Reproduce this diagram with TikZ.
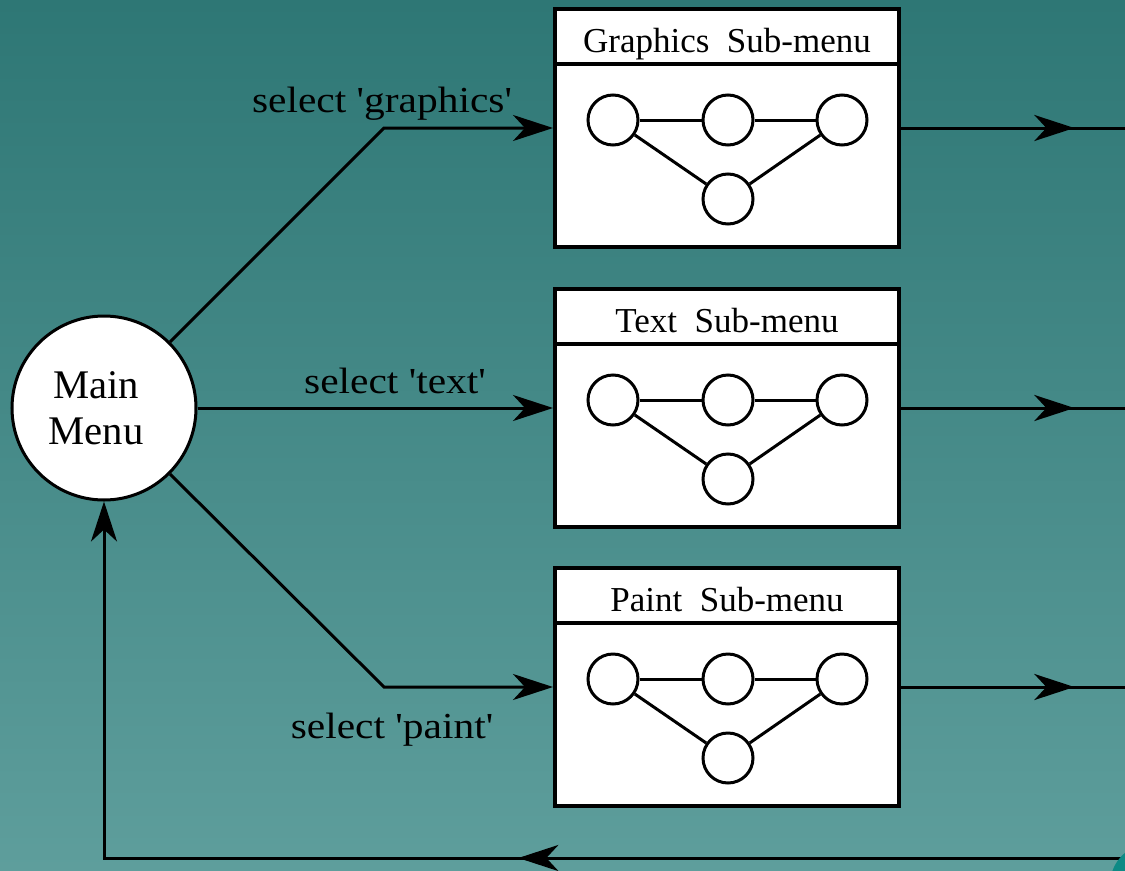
\documentclass[tikz,border=0pt]{standalone}
\usepackage{fontspec}
\setmainfont{Liberation Serif}[Ligatures=TeXOff]
\usetikzlibrary{arrows.meta,decorations.markings}

\definecolor{bgtop}{RGB}{46,119,117}
\definecolor{bgbot}{RGB}{94,158,156}
\definecolor{cornerteal}{RGB}{14,138,133}

\tikzset{
  tipshape/.tip={Stealth[length=30pt,width=19.5pt,inset=9pt]},
  conn/.style={line width=2.25pt, line join=miter},
  menubox/.style={draw, fill=white, line width=3pt, rectangle,
    minimum width=258pt, minimum height=178.5pt, inner sep=0pt},
  ring/.style={draw, fill=white, circle, line width=2.25pt,
    minimum size=37.5pt, inner sep=0pt},
  ringlink/.style={line width=2.25pt},
  titletext/.style={anchor=base, inner sep=0pt,
    font=\fontsize{26.25}{31}\selectfont},
  lbl/.style={anchor=base, inner sep=0pt,
    font=\fontsize{27.5}{33}\selectfont},
  midtip/.style={postaction={decorate}, decoration={markings,
    mark=at position #1 with {\arrow{tipshape}}}}
}

\begin{document}
\begin{tikzpicture}[x=0.75pt,y=-0.75pt]
\useasboundingbox (0,0) rectangle (1125,871);
\shade[top color=bgtop, bottom color=bgbot] (0,0) rectangle (1125,871);

% main menu
\node[draw, fill=white, circle, line width=2.25pt, minimum size=138pt,
  inner sep=0pt] (main) at (104,408) {};
\node[align=center, inner sep=0pt,
  font=\fontsize{30.5}{34.5}\selectfont] (maintext) at (96,408) {Main\\Menu};

% the three sub-menu windows
\foreach \n/\cy/\ttl in {g/128/Graphics, t/408/Text, p/687/Paint}{
  \node[menubox] (\n box) at (727,\cy) {};
  \draw[line width=3pt] ([yshift=-42.75pt]\n box.north west)
    -- ([yshift=-42.75pt]\n box.north east);
  \node[titletext] (\n title) at (727,{\cy-76}) {\ttl\hspace{0.5em}Sub-menu};
  \node[ring] (\n a) at (613,{\cy-8}) {};
  \node[ring] (\n b) at (728,{\cy-8}) {};
  \node[ring] (\n c) at (842,{\cy-8}) {};
  \node[ring] (\n d) at (728,{\cy+71}) {};
  \draw[ringlink] (\n a) -- (\n b);
  \draw[ringlink] (\n b) -- (\n c);
  \draw[ringlink] (\n a) -- (\n d);
  \draw[ringlink] (\n c) -- (\n d);
  \coordinate (\n out) at (1125,\cy);
  \draw[conn, midtip=130pt] (\n box.east) -- (\n out);
}

% selection paths
\coordinate (gbend) at (384,128);
\coordinate (pbend) at (384,687);
\draw[conn, -{tipshape}] (main.45) -- (gbend) -- (gbox.west);
\draw[conn, -{tipshape}] (main.east) -- (tbox.west);
\draw[conn, -{tipshape}] (main.-45) -- (pbend) -- (pbox.west);

\node[lbl] (lg) at (382,112) {\scalebox{1.13}[1]{select 'graphics'}};
\node[lbl] (lt) at (395,393) {\scalebox{1.13}[1]{select 'text'}};
\node[lbl] (lp) at (392,738) {\scalebox{1.13}[1]{select 'paint'}};

% return path
\coordinate (rin) at (1125,858);
\coordinate (rcorner) at (104,858);
\draw[conn, midtip=455pt, -{tipshape}] (rin) -- (rcorner) -- (main.south);

% corner ornament
\fill[cornerteal] (1152,885) circle [radius=42];
\end{tikzpicture}
\end{document}
